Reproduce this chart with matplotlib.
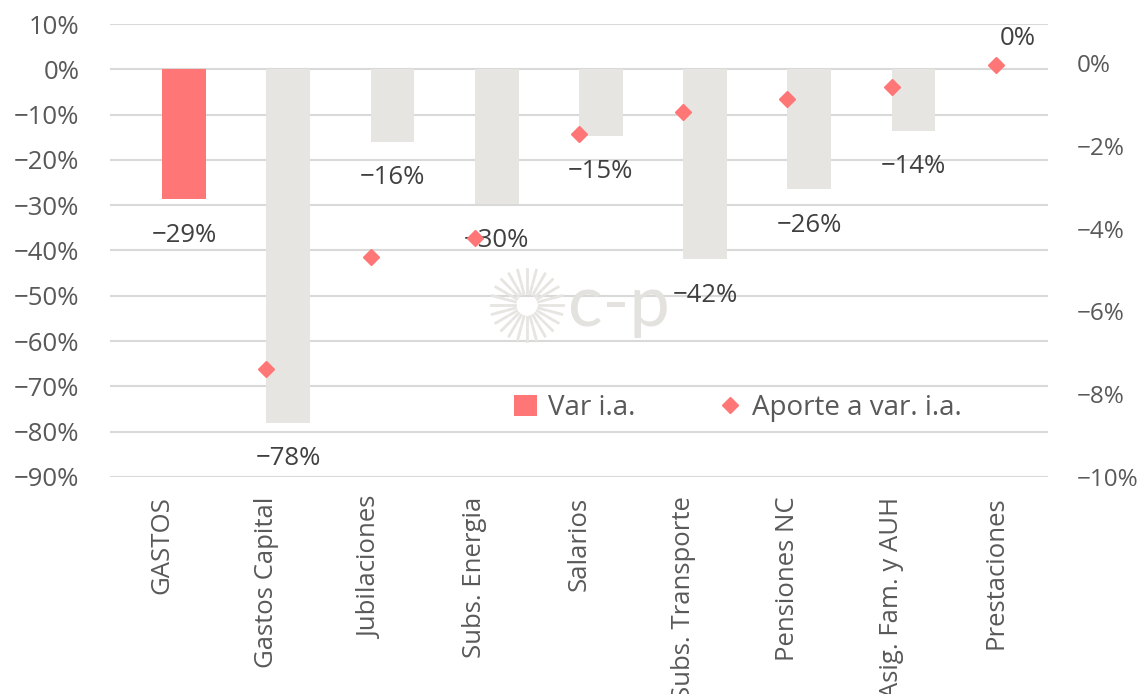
import numpy as np
import matplotlib
matplotlib.use("Agg")
import matplotlib.pyplot as plt
from matplotlib.ticker import PercentFormatter, FixedLocator
from matplotlib.lines import Line2D
from matplotlib.patches import Patch

plt.rcParams['font.family'] = ['Open Sans', 'DejaVu Sans']

categories = ["GASTOS", "Gastos Capital", "Jubilaciones", "Subs. Energia", "Salarios",
              "Subs. Transporte", "Pensiones NC", "Asig. Fam. y AUH", "Prestaciones"]
var_ia = [-0.287, -0.780, -0.160, -0.298, -0.147, -0.419, -0.265, -0.136, 0.0]
aporte = [np.nan, -0.0740, -0.0468, -0.0423, -0.0171, -0.0119, -0.0086, -0.0059, -0.0006]
left_ticks = [0.1, 0.0, -0.1, -0.2, -0.3, -0.4, -0.5, -0.6, -0.7, -0.8, -0.9]
right_ticks = [0.0, -0.02, -0.04, -0.06, -0.08, -0.10]

RED = "#FF7676"
GREY = "#E6E5E1"
TICK = "#595959"
LABEL = "#404040"
GRID = "#D9D9D9"
FS = 18.5

fig = plt.figure(figsize=(11.4, 6.94), dpi=100)
ax = fig.add_axes([110/1140, 1-477/694, 938/1140, 453/694])
ax2 = ax.twinx()

x = np.arange(len(categories))
colors = [RED] + [GREY]*(len(categories)-1)
bars = ax.bar(x + 0.21, var_ia, width=0.42, color=colors, zorder=2)

ax.set_ylim(-0.9, 0.1)
ax.yaxis.set_major_locator(FixedLocator(left_ticks))
ax.yaxis.set_major_formatter(PercentFormatter(1.0, decimals=0))
ax.set_xlim(-0.5, len(categories)-0.5)
ax.grid(axis='y', color=GRID, linewidth=1.5, zorder=0)
ax.set_axisbelow(True)
ax.set_xticks(x)
ax.set_xticklabels(categories, rotation=90, va='top', ha='center')
for s in ax.spines.values():
    s.set_visible(False)
for s in ax2.spines.values():
    s.set_visible(False)
ax.tick_params(axis='both', length=0, labelsize=FS, colors=TICK)
ax.tick_params(axis='y', pad=22)
ax.tick_params(axis='x', pad=14)

for xi, v in zip(x, var_ia):
    if v < 0:
        ax.annotate(f"{v*100:.0f}%".replace("-", "\u2212"), (xi + 0.21, v), xytext=(0, -36),
                    textcoords='offset pixels', ha='center', va='center',
                    fontsize=FS, color=LABEL, zorder=3)
    else:
        ax.annotate(f"{abs(v)*100:.0f}%", (xi + 0.21, v), xytext=(0, 31),
                    textcoords='offset pixels', ha='center', va='center',
                    fontsize=FS, color=LABEL, zorder=3)

ax2.plot(x, aporte, linestyle='none', marker='D', markersize=8.5, color=RED, zorder=5)
ax2.set_ylim(-0.10, 0.0094)
ax2.yaxis.set_major_locator(FixedLocator(right_ticks))
ax2.yaxis.set_major_formatter(PercentFormatter(1.0, decimals=0))
ax2.tick_params(axis='y', length=0, labelsize=17.5, colors=TICK, pad=21)
ax.set_zorder(1)
ax2.set_zorder(2)
ax2.patch.set_visible(False)

# watermark logo
cx, cy = 527/1140, 1-305/694
for ang in np.linspace(0, 2*np.pi, 24, endpoint=False):
    for r0, r1 in [(12, 20), (23, 30), (32, 36)]:
        fig.add_artist(Line2D([cx + r0*np.cos(ang)/1140, cx + r1*np.cos(ang)/1140],
                              [cy + r0*np.sin(ang)/694, cy + r1*np.sin(ang)/694],
                              transform=fig.transFigure, color="#E6E5E1", linewidth=2, zorder=3))
fig.text(568/1140, 1-305/694, "c-p", fontsize=52, color="#E3E2DE", ha='left', va='center',
         zorder=3, family=['Lato', 'DejaVu Sans'])

handles = [Patch(facecolor=RED, edgecolor='none'),
           Line2D([], [], linestyle='none', marker='D', markersize=8.5, color=RED)]
leg = ax2.legend(handles, ["Var i.a.", "Aporte a var. i.a."], loc='center',
                 bbox_to_anchor=(738/1140, 1-408/694), bbox_transform=fig.transFigure,
                 ncol=2, frameon=False, fontsize=20, labelcolor=TICK,
                 handlelength=0.8, handleheight=0.8, columnspacing=3.0, handletextpad=0.4)

fig.savefig("out.png", dpi=100, facecolor='white')
